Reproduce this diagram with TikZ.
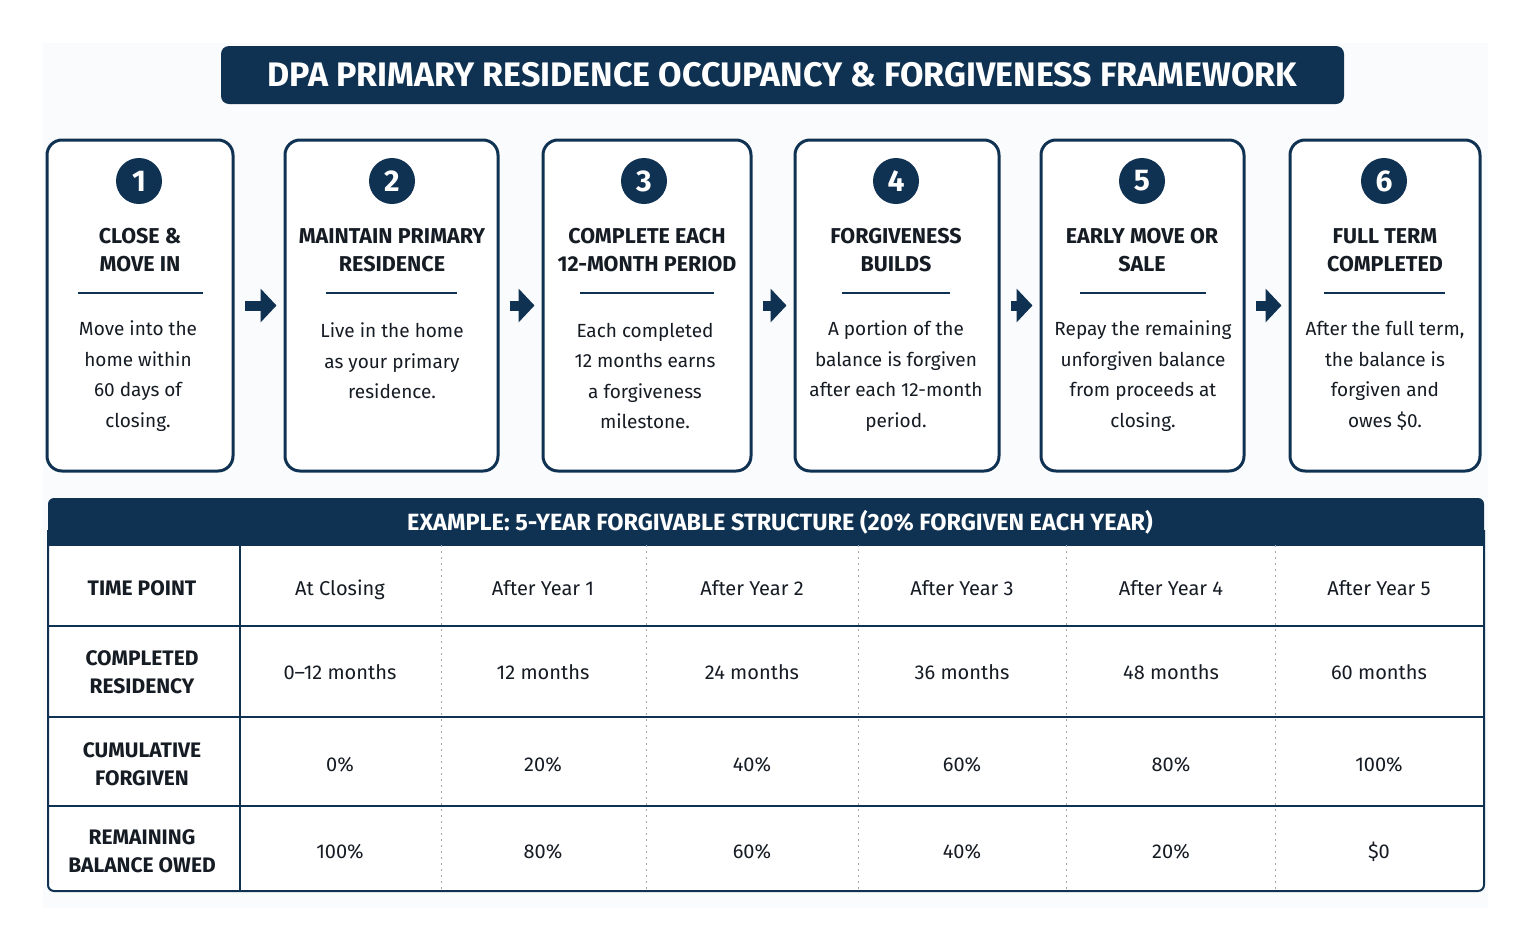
\documentclass[tikz,border=0pt]{standalone}
\usepackage{fontspec}
\setmainfont{Fira Sans}
\usetikzlibrary{arrows,arrows.meta,positioning}
\definecolor{navy}{RGB}{16,50,82}
\definecolor{ink}{RGB}{22,28,36}
\definecolor{paper}{RGB}{250,251,252}

\begin{document}
\begin{tikzpicture}[x=1pt,y=-1pt,
  banner/.style={fill=navy,rounded corners=8pt,text=white,minimum width=1123pt,minimum height=58pt,font=\fontsize{34}{34}\selectfont\bfseries},
  box/.style={draw=navy,line width=3pt,rounded corners=15pt,fill=white,minimum height=331pt},
  num/.style={circle,fill=navy,text=white,minimum size=46pt,inner sep=0pt,font=\fontsize{30}{30}\selectfont\bfseries},
  head/.style={align=center,text=ink,font=\fontsize{21.5}{28}\selectfont\bfseries},
  body/.style={align=center,text=ink,font=\fontsize{19}{30.5}\selectfont},
  sepline/.style={draw=navy,line width=2pt},
  flow/.style={navy,line width=10pt,-{Triangle[length=16pt,width=33pt]},shorten <=10pt,shorten >=7pt},
  grid/.style={draw=navy,line width=2pt},
  dots/.style={draw=gray!70,line width=1pt,dash pattern=on 2pt off 4pt},
  rowhead/.style={align=center,text=ink,font=\fontsize{21}{28}\selectfont\bfseries},
  cell/.style={text=ink,text height=14pt,text depth=0pt,font=\fontsize{20}{28}\selectfont}]

  \useasboundingbox (0,0) rectangle (1529,940);
  \fill[paper] (43,43) rectangle (1488,908);

  % title
  \node[banner] (title) at (782.5,75) {DPA PRIMARY RESIDENCE OCCUPANCY \& FORGIVENESS FRAMEWORK};

  % steps
  \node[box,minimum width=186pt] (s1) at (140,305.5) {};
  \node[box,minimum width=213pt] (s2) at (391.5,305.5) {};
  \node[box,minimum width=208pt] (s3) at (647,305.5) {};
  \node[box,minimum width=204pt] (s4) at (897,305.5) {};
  \node[box,minimum width=203pt] (s5) at (1142.5,305.5) {};
  \node[box,minimum width=190pt] (s6) at (1385,305.5) {};

  \node[num] (n1) at (139,181) {1};
  \node[num] (n2) at (392,181) {2};
  \node[num] (n3) at (644,181) {3};
  \node[num] (n4) at (896,181) {4};
  \node[num] (n5) at (1142,181) {5};
  \node[num] (n6) at (1384,181) {6};

  \node[head] (h1) at (140,250) {CLOSE \&\\MOVE IN};
  \node[head] (h2) at (392,250) {MAINTAIN PRIMARY\\RESIDENCE};
  \node[head] (h3) at (647,250) {COMPLETE EACH\\12-MONTH PERIOD};
  \node[head] (h4) at (896,250) {FORGIVENESS\\BUILDS};
  \node[head] (h5) at (1142,250) {EARLY MOVE OR\\SALE};
  \node[head] (h6) at (1385,250) {FULL TERM\\COMPLETED};

  \draw[sepline] (78,293) -- (203,293);
  \draw[sepline] (326,293) -- (457,293);
  \draw[sepline] (580,293) -- (714,293);
  \draw[sepline] (842,293) -- (950,293);
  \draw[sepline] (1080,293) -- (1206,293);
  \draw[sepline] (1324,293) -- (1445,293);

  \node[body] (b1) at (138,376) {Move into the\\home within\\60 days of\\closing.};
  \node[body] (b2) at (392,361) {Live in the home\\as your primary\\residence.};
  \node[body] (b3) at (645,376) {Each completed\\12 months earns\\a forgiveness\\milestone.};
  \node[body] (b4) at (896,376) {A portion of the\\balance is forgiven\\after each 12-month\\period.};
  \node[body] (b5) at (1143,376) {Repay the remaining\\unforgiven balance\\from proceeds at\\closing.};
  \node[body] (b6) at (1385,376) {After the full term,\\the balance is\\forgiven and\\owes \$0.};

  \draw[flow] (s1.east) -- (s2.west);
  \draw[flow] (s2.east) -- (s3.west);
  \draw[flow] (s3.east) -- (s4.west);
  \draw[flow] (s4.east) -- (s5.west);
  \draw[flow] (s5.east) -- (s6.west);

  % example table
  \fill[white] (48,545) rectangle (1484,891);
  \fill[navy] (48,545) {[rounded corners=6pt] -- (48,498) -- (1484,498)} -- (1484,545) -- cycle;
  \node[text=white,font=\fontsize{23.5}{23.5}\selectfont\bfseries] (thead) at (780,522) {EXAMPLE: 5-YEAR FORGIVABLE STRUCTURE (20\% FORGIVEN EACH YEAR)};
  \draw[grid,rounded corners=6pt] (48,530) -- (48,891) -- (1484,891) -- (1484,530);
  \draw[grid] (48,545) -- (1484,545);
  \draw[grid] (48,626) -- (1484,626);
  \draw[grid] (48,717) -- (1484,717);
  \draw[grid] (48,806) -- (1484,806);
  \draw[grid] (240,545) -- (240,891);
  \draw[dots] (441,545) -- (441,891);
  \draw[dots] (646,545) -- (646,891);
  \draw[dots] (858,545) -- (858,891);
  \draw[dots] (1066,545) -- (1066,891);
  \draw[dots] (1275,545) -- (1275,891);

  \node[rowhead] (r1) at (142,588) {TIME POINT};
  \node[rowhead] (r2) at (142,672) {COMPLETED\\RESIDENCY};
  \node[rowhead] (r3) at (142,764) {CUMULATIVE\\FORGIVEN};
  \node[rowhead] (r4) at (142,851) {REMAINING\\BALANCE OWED};

  \node[cell] (t1) at (340,588) {At Closing};
  \node[cell] (t2) at (543,588) {After Year 1};
  \node[cell] (t3) at (752,588) {After Year 2};
  \node[cell] (t4) at (962,588) {After Year 3};
  \node[cell] (t5) at (1171,588) {After Year 4};
  \node[cell] (t6) at (1379,588) {After Year 5};

  \node[cell] (m1) at (340,672) {0--12 months};
  \node[cell] (m2) at (543,672) {12 months};
  \node[cell] (m3) at (752,672) {24 months};
  \node[cell] (m4) at (962,672) {36 months};
  \node[cell] (m5) at (1171,672) {48 months};
  \node[cell] (m6) at (1379,672) {60 months};

  \node[cell] (f1) at (340,764) {0\%};
  \node[cell] (f2) at (543,764) {20\%};
  \node[cell] (f3) at (752,764) {40\%};
  \node[cell] (f4) at (962,764) {60\%};
  \node[cell] (f5) at (1171,764) {80\%};
  \node[cell] (f6) at (1379,764) {100\%};

  \node[cell] (o1) at (340,851) {100\%};
  \node[cell] (o2) at (543,851) {80\%};
  \node[cell] (o3) at (752,851) {60\%};
  \node[cell] (o4) at (962,851) {40\%};
  \node[cell] (o5) at (1171,851) {20\%};
  \node[cell] (o6) at (1379,851) {\$0};
\end{tikzpicture}
\end{document}
